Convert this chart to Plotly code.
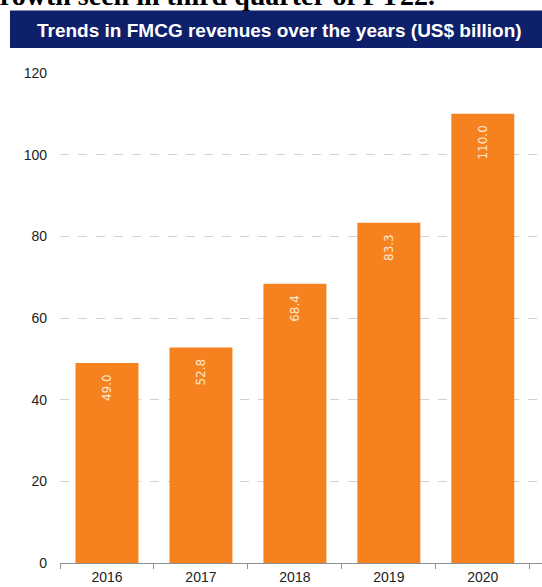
import plotly.graph_objects as go

years = ["2016", "2017", "2018", "2019", "2020"]
revenues = [49.0, 52.8, 68.4, 83.3, 110.0]
labels = ["49.0", "52.8", "68.4", "83.3", "110.0"]
y_ticks = [0, 20, 40, 60, 80, 100, 120]

W, H = 542, 587
L, R, T, B = 60, 0, 73, 24
pw, ph = W - L - R, H - T - B

def px_x(x):
    return (x - L) / pw

def px_y(y):
    return (H - B - y) / ph

fig = go.Figure()
fig.add_trace(go.Bar(
    x=years, y=revenues, text=[s + "\u2002\u2009" for s in labels],
    marker=dict(color="#F5821F", line=dict(width=0)),
    textposition="inside", insidetextanchor="end", textangle=-90,
    textfont=dict(family="DejaVu Sans, Verdana", size=12, color="#FFE9CF"),
    cliponaxis=False,
))

fig.update_layout(
    width=W, height=H,
    margin=dict(l=L, r=R, t=T, b=B, pad=0, autoexpand=False),
    paper_bgcolor="white", plot_bgcolor="white",
    showlegend=False, bargap=0.33,
    font=dict(family="Liberation Sans, Arial", color="#333333"),
    xaxis=dict(
        range=[-0.5, 4.63], showgrid=False, showline=True, linecolor="#8a8f98", linewidth=1,
        ticks="outside", tickson="boundaries", ticklen=5, tickcolor="#8a8f98",
        tickfont=dict(size=14, color="#222222"), ticklabelstandoff=1,
        zeroline=False, fixedrange=True, automargin=False,
    ),
    yaxis=dict(
        range=[0, 120], tickvals=y_ticks, showgrid=True, gridcolor="#d2d2d2", griddash="dash",
        gridwidth=1, zeroline=False, showline=False, ticks="",
        tickfont=dict(size=14, color="#222222"), ticklabelstandoff=12, automargin=False,
    ),
    shapes=[dict(
        type="rect", xref="paper", yref="paper",
        x0=px_x(10), x1=px_x(545), y0=px_y(48), y1=px_y(10.5),
        fillcolor="#0E2069", line=dict(width=0), layer="above",
    )],
    annotations=[
        dict(text="<b>Trends in FMCG revenues over the years (US$ billion)</b>",
             xref="paper", yref="paper", x=px_x(279), y=px_y(30),
             xanchor="center", yanchor="middle", showarrow=False,
             font=dict(family="Liberation Sans, Arial", size=19, color="white")),
        dict(text="<b>Growth seen in third quarter of FY22.</b>",
             xref="paper", yref="paper", x=px_x(437), y=px_y(13),
             xanchor="right", yanchor="bottom", showarrow=False,
             font=dict(family="Liberation Serif, Times New Roman", size=28, color="black")),
    ],
)

fig.write_html("out.html")
